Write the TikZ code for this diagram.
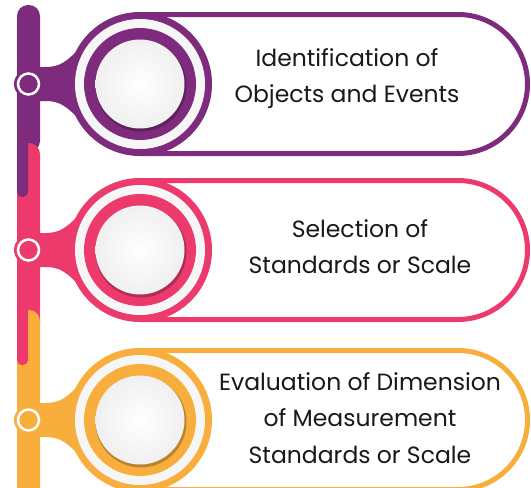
\documentclass[tikz,border=0pt]{standalone}
\usepackage{fontspec}
\setmainfont{Poppins}
\definecolor{purp}{HTML}{7E2B7D}
\definecolor{rose}{HTML}{EC3A6D}
\definecolor{amber}{HTML}{F8AE3C}
\tikzset{
  steptext/.style={align=center, text=black!90, font=\fontsize{23.5}{36.5}\selectfont},
  ringwhite/.style={fill=white!93!gray}
}
\begin{document}
\begin{tikzpicture}[x=1pt,y=-1pt]
  \useasboundingbox (0,0) rectangle (531,488);
  \clip (0,0) rectangle (531,488);
  % side bars
  \fill[purp, rounded corners=11] (17,5) rectangle (40,152);
  \fill[rose, rounded corners=11] (17,143) rectangle (40,335);
  \fill[purp, rounded corners=5] (17,130) rectangle (28,197);
  \fill[amber, rounded corners=11] (17,310) rectangle (40,500);
  \fill[rose, rounded corners=5] (17,300) rectangle (28,365);
  % the three steps
  \foreach \cy/\col in {84/purp, 250/rose, 420/amber} {
    \draw[\col, line width=5, fill=white] (140,\cy-69.5) -- (458,\cy-69.5)
      arc[start angle=-90, end angle=90, radius=69.5] -- (140,\cy+69.5);
    \fill[\col] (30,\cy-17) -- (45,\cy-17) .. controls (60,\cy-17) and (66,\cy-22) .. (80,\cy-36)
      -- (80,\cy+36) .. controls (66,\cy+22) and (60,\cy+17) .. (45,\cy+17) -- (30,\cy+17) -- cycle;
    \fill[\col] (140,\cy) circle[radius=72];
    \fill[ringwhite] (140,\cy) circle[radius=65];
    \fill[\col] (140,\cy) circle[radius=56];
    \fill[\col!75!black] (141,\cy+2) circle[radius=45.5];
    \shade[inner color=white, outer color=gray!12] (140,\cy) circle[radius=44.5];
    \fill[\col] (28.5,\cy) circle[radius=14.5];
    \draw[white, line width=2.5] (28.5,\cy) circle[radius=10.5];
  }
  \node[steptext] (ident) at (347,78.5) {Identification of\\Objects and Events};
  \node[steptext] (select) at (360,246.5) {Selection of\\Standards or Scale};
  \node[steptext] (evalu) at (360,418) {Evaluation of Dimension\\of Measurement\\Standards or Scale};
\end{tikzpicture}
\end{document}
